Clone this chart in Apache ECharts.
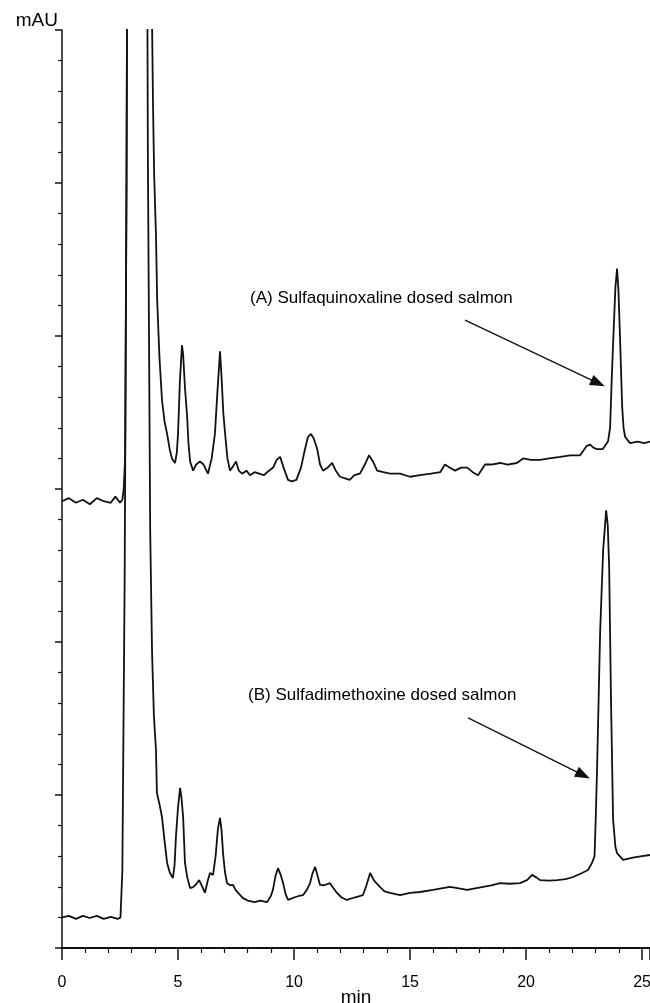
<!DOCTYPE html>
<html>
<head>
<meta charset="utf-8">
<script src="https://cdn.jsdelivr.net/npm/echarts@6/dist/echarts.min.js"></script>
<style>
    html, body {margin: 0; padding: 0; background: #fff;}
    #chart {width: 650px; height: 1003px;}
</style>
</head>
<body>
<div id="chart"></div>
<script>
// retention time (min) / absorbance (mAU, axis units)
var timeA = [0, 0.3, 0.6, 0.9, 1.2, 1.5, 1.8, 2.1, 2.3, 2.5, 2.6, 2.66, 2.72, 2.78, 2.86, 3.25, 3.8, 3.88, 3.92, 3.97,
    4.05, 4.1, 4.2, 4.31, 4.42, 4.53, 4.64, 4.74, 4.87, 4.95, 5.0, 5.08, 5.17, 5.22, 5.3, 5.39, 5.45, 5.52, 5.65, 5.78,
    5.95, 6.1, 6.29, 6.45, 6.59, 6.7, 6.81, 6.88, 6.95, 7.03, 7.13, 7.24, 7.38, 7.5, 7.62, 7.76, 7.95, 8.1, 8.3, 8.5,
    8.7, 8.84, 9.1, 9.25, 9.4, 9.55, 9.74, 9.9, 10.1, 10.3, 10.47, 10.6, 10.73, 10.85, 11.0, 11.12, 11.25, 11.45, 11.64, 11.8,
    11.98, 12.2, 12.4, 12.6, 12.84, 13.05, 13.23, 13.4, 13.58, 13.85, 14.14, 14.57, 15.0, 15.43, 15.9, 16.3, 16.5, 16.7, 16.94, 17.2,
    17.46, 17.7, 17.93, 18.23, 18.5, 18.88, 19.2, 19.6, 19.87, 20.2, 20.6, 21.0, 21.47, 21.9, 22.33, 22.6, 22.76, 22.9, 23.06, 23.3,
    23.53, 23.62, 23.7, 23.78, 23.85, 23.92, 23.98, 24.05, 24.14, 24.2, 24.27, 24.48, 24.8, 25.1, 25.34];
var valueA = [14.6, 14.7, 14.55, 14.65, 14.5, 14.7, 14.6, 14.55, 14.75, 14.55, 14.65, 15.0, 16.0, 25, 45, 60, 45, 30.3, 27.7, 25.3,
    23.3, 21.2, 19.3, 17.9, 17.2, 16.8, 16.3, 16.0, 15.85, 16.2, 16.8, 18.5, 19.7, 19.4, 18.3, 17.4, 16.5, 15.9, 15.6, 15.8,
    15.9, 15.8, 15.5, 16.0, 16.8, 18.2, 19.5, 18.6, 17.5, 16.8, 16.0, 15.6, 15.75, 15.9, 15.6, 15.5, 15.6, 15.45, 15.55, 15.5,
    15.45, 15.55, 15.7, 15.95, 16.05, 15.7, 15.3, 15.25, 15.3, 15.7, 16.3, 16.7, 16.8, 16.65, 16.3, 15.8, 15.6, 15.7, 15.85, 15.6,
    15.4, 15.35, 15.3, 15.45, 15.5, 15.8, 16.1, 15.9, 15.6, 15.55, 15.5, 15.5, 15.4, 15.45, 15.5, 15.55, 15.8, 15.7, 15.6, 15.7,
    15.7, 15.55, 15.45, 15.8, 15.8, 15.85, 15.8, 15.85, 16.0, 15.95, 15.95, 16.0, 16.05, 16.1, 16.1, 16.4, 16.45, 16.35, 16.3, 16.3,
    16.55, 17.0, 18.8, 20.3, 21.6, 22.2, 21.5, 19.9, 17.7, 17.0, 16.7, 16.5, 16.55, 16.5, 16.55];

var timeB = [0, 0.3, 0.6, 0.9, 1.2, 1.5, 1.8, 2.1, 2.4, 2.52, 2.6, 2.7, 2.78, 2.86, 3.2, 3.62, 3.7, 3.75, 3.8, 3.88,
    3.96, 4.05, 4.09, 4.2, 4.31, 4.42, 4.53, 4.65, 4.78, 4.85, 4.91, 5.0, 5.09, 5.15, 5.22, 5.3, 5.4, 5.52, 5.65, 5.8,
    5.91, 6.05, 6.16, 6.28, 6.38, 6.51, 6.62, 6.72, 6.81, 6.88, 6.94, 7.02, 7.11, 7.25, 7.37, 7.48, 7.59, 7.8, 8.0, 8.3,
    8.55, 8.84, 9.0, 9.09, 9.2, 9.31, 9.42, 9.53, 9.64, 9.74, 10.0, 10.2, 10.39, 10.55, 10.69, 10.8, 10.91, 11.0, 11.12, 11.3,
    11.55, 11.7, 11.85, 12.05, 12.28, 12.6, 12.97, 13.12, 13.28, 13.45, 13.71, 13.9, 14.14, 14.57, 15.0, 15.43, 15.99, 16.35, 16.72, 17.1,
    17.46, 17.8, 18.15, 18.5, 18.88, 19.3, 19.74, 20.04, 20.26, 20.45, 20.6, 21.0, 21.34, 21.7, 22.03, 22.41, 22.67, 22.84, 22.95, 23.0,
    23.06, 23.19, 23.32, 23.45, 23.52, 23.58, 23.66, 23.75, 23.85, 23.92, 24.18, 24.6, 25.0, 25.34];
var valueB = [1.0, 1.05, 0.95, 1.05, 0.98, 1.05, 0.95, 1.02, 0.95, 1.0, 2.5, 12, 25, 45, 60, 45, 26, 20, 13.7, 9.7,
    7.6, 6.47, 5.07, 4.7, 4.28, 3.5, 2.78, 2.45, 2.29, 2.7, 3.63, 4.6, 5.23, 4.9, 4.28, 2.78, 2.3, 1.96, 1.99, 2.1,
    2.22, 2.0, 1.8, 2.2, 2.45, 2.39, 3.0, 3.9, 4.25, 3.8, 3.1, 2.5, 2.12, 2.05, 2.06, 1.9, 1.8, 1.63, 1.55, 1.5,
    1.55, 1.5, 1.7, 1.9, 2.35, 2.61, 2.4, 2.12, 1.75, 1.57, 1.65, 1.7, 1.73, 1.9, 2.12, 2.45, 2.65, 2.4, 2.06, 2.05,
    2.12, 1.95, 1.8, 1.65, 1.57, 1.65, 1.73, 2.05, 2.45, 2.2, 1.99, 1.85, 1.8, 1.73, 1.8, 1.83, 1.9, 1.95, 2.0, 1.95,
    1.9, 1.95, 2.0, 2.05, 2.12, 2.1, 2.12, 2.22, 2.39, 2.3, 2.22, 2.2, 2.22, 2.25, 2.32, 2.45, 2.55, 2.78, 3.0, 4.2,
    5.9, 10.3, 13.0, 14.3, 13.8, 12.45, 8.1, 4.2, 3.3, 3.1, 2.88, 2.95, 3.0, 3.04];

// annotation arrows: [start, tip] in (min, mAU)
var arrowA = [[17.37, 20.52], [23.1, 18.46]];
var arrowB = [[17.5, 7.52], [22.46, 5.65]];
var labelA = '(A) Sulfaquinoxaline dosed salmon';
var labelB = '(B) Sulfadimethoxine dosed salmon';

function zip(t, v) {
    var out = [];
    for (var i = 0; i < t.length; i++) {
        out.push([t[i], v[i]]);
    }
    return out;
}

function arrowLine(pts) {
    return {
        silent: true,
        symbol: ['none', 'triangle'],
        symbolSize: [11, 15],
        label: {show: false},
        lineStyle: {color: '#111', width: 1.3, type: 'solid'},
        data: [[{coord: pts[0]}, {coord: pts[1]}]]
    };
}

var font = '"Liberation Sans", Arial, sans-serif';
var myChart = echarts.init(document.getElementById('chart'), null, {renderer: 'canvas'});
var option = {
    backgroundColor: '#fff',
    animation: false,
    grid: {left: 62, right: 0, top: 30, bottom: 55, outerBoundsMode: 'none', containLabel: false},
    xAxis: {
        type: 'value',
        min: 0,
        max: 25.34,
        interval: 5,
        name: 'min',
        nameLocation: 'middle',
        nameGap: 40,
        nameMoveOverlap: false,
        nameTextStyle: {color: '#000', fontSize: 19, fontFamily: font},
        axisLine: {onZero: false, lineStyle: {color: '#111', width: 2}},
        axisTick: {length: 12, lineStyle: {color: '#111', width: 1.5}},
        minorTick: {show: true, splitNumber: 5, length: 5, lineStyle: {color: '#111', width: 1.2}},
        splitLine: {show: false},
        axisLabel: {
            color: '#000', fontSize: 16, fontFamily: font, margin: 27,
            formatter: function (v) {
                return v % 5 === 0 ? String(v) : '';
            }
        }
    },
    yAxis: {
        type: 'value',
        min: 0,
        max: 30,
        interval: 5,
        name: 'mAU',
        nameLocation: 'end',
        nameGap: 0,
        nameTextStyle: {
            color: '#000', fontSize: 19, fontFamily: font,
            align: 'right', verticalAlign: 'bottom', padding: [0, 4, 0, 0]
        },
        axisLine: {onZero: false, lineStyle: {color: '#111', width: 1.5}},
        axisTick: {length: 7, lineStyle: {color: '#111', width: 1.5}},
        minorTick: {show: true, splitNumber: 5, length: 4, lineStyle: {color: '#111', width: 1.2}},
        splitLine: {show: false},
        axisLabel: {show: false}
    },
    graphic: [
        {type: 'text', left: 250, top: 290, style: {text: labelA, fill: '#000', font: '17px ' + font}},
        {type: 'text', left: 248, top: 687, style: {text: labelB, fill: '#000', font: '17px ' + font}}
    ],
    series: [
        {
            name: 'A',
            type: 'line',
            showSymbol: false,
            clip: true,
            lineStyle: {color: '#111', width: 1.8},
            data: zip(timeA, valueA),
            markLine: arrowLine(arrowA)
        },
        {
            name: 'B',
            type: 'line',
            showSymbol: false,
            clip: true,
            lineStyle: {color: '#111', width: 1.8},
            data: zip(timeB, valueB),
            markLine: arrowLine(arrowB)
        }
    ]
};
myChart.setOption(option);
</script>
</body>
</html>
